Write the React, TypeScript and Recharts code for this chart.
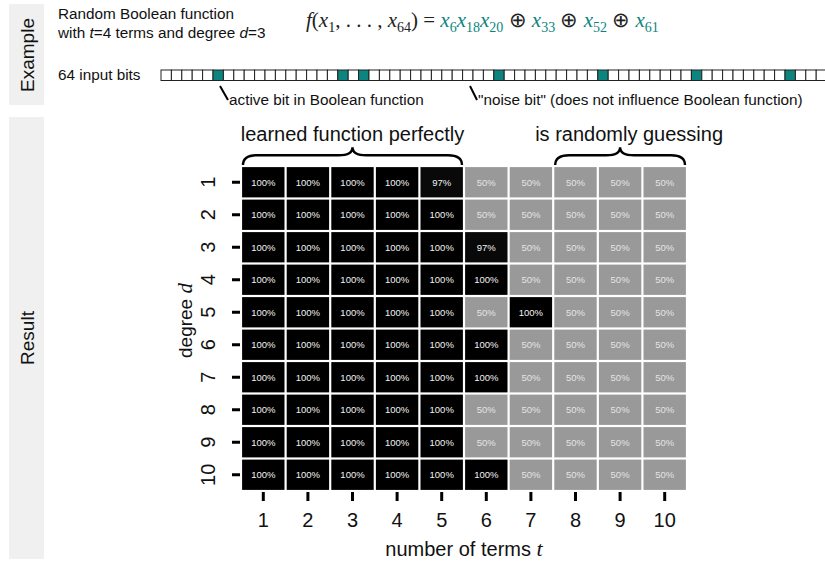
import React from "react";
import {
  ScatterChart,
  Scatter,
  XAxis,
  YAxis,
  ReferenceArea,
} from "recharts";

// number of terms t (columns) and degree d (rows)
const TERMS = [1, 2, 3, 4, 5, 6, 7, 8, 9, 10];
const DEGREES = [1, 2, 3, 4, 5, 6, 7, 8, 9, 10];

// accuracy (%) per degree row, left to right over t = 1..10
const ROW_D1 = [100, 100, 100, 100, 97, 50, 50, 50, 50, 50];
const ROW_D2 = [100, 100, 100, 100, 100, 50, 50, 50, 50, 50];
const ROW_D3 = [100, 100, 100, 100, 100, 97, 50, 50, 50, 50];
const ROW_D4 = [100, 100, 100, 100, 100, 100, 50, 50, 50, 50];
const ROW_D5 = [100, 100, 100, 100, 100, 50, 100, 50, 50, 50];
const ROW_D6 = [100, 100, 100, 100, 100, 100, 50, 50, 50, 50];
const ROW_D7 = [100, 100, 100, 100, 100, 100, 50, 50, 50, 50];
const ROW_D8 = [100, 100, 100, 100, 100, 50, 50, 50, 50, 50];
const ROW_D9 = [100, 100, 100, 100, 100, 50, 50, 50, 50, 50];
const ROW_D10 = [100, 100, 100, 100, 100, 100, 50, 50, 50, 50];

const ROWS = [ROW_D1, ROW_D2, ROW_D3, ROW_D4, ROW_D5, ROW_D6, ROW_D7, ROW_D8, ROW_D9, ROW_D10];

// example input: 64 bits, the highlighted ones (1-based)
const N_BITS = 64;
const ACTIVE_BITS = [6, 18, 20, 33, 43, 52, 61];

const W = 825;
const H = 561;
const PLOT_LEFT = 241;
const PLOT_RIGHT = 687;
const PLOT_TOP = 166;
const PLOT_BOTTOM = 491;
const CELL_W = (PLOT_RIGHT - PLOT_LEFT) / TERMS.length;
const CELL_H = (PLOT_BOTTOM - PLOT_TOP) / DEGREES.length;

const SANS = "'Liberation Sans', Arial, sans-serif";
const SERIF = "'Liberation Serif', 'Times New Roman', serif";
const TEAL = "#0c8580";
const SMALL = 15.3;

const cells = ROWS.flatMap((row, i) =>
  row.map((acc, j) => ({ t: TERMS[j], d: DEGREES[i], acc }))
);

function cellColor(acc: number) {
  const g = Math.round(255 * 0.6 * ((100 - acc) / 50));
  return `rgb(${g},${g},${g})`;
}

function Cell(props: any) {
  const { cx, cy, payload } = props;
  if (cx == null || cy == null) return null;
  const gap = 1.1;
  return (
    <g>
      <rect
        x={cx - CELL_W / 2 + gap}
        y={cy - CELL_H / 2 + gap}
        width={CELL_W - 2 * gap}
        height={CELL_H - 2 * gap}
        fill={cellColor(payload.acc)}
      />
      <text
        x={cx}
        y={cy}
        textAnchor="middle"
        dominantBaseline="central"
        fontSize={9.5}
        fill={payload.acc > 75 ? "#f2f2f2" : "#e4e4e4"}
      >
        {payload.acc}%
      </text>
    </g>
  );
}

function XTick(props: any) {
  const { x, y, payload } = props;
  return (
    <g>
      <line x1={x} x2={x} y1={y + 1} y2={y + 10} stroke="#000" strokeWidth={3} />
      <text x={x} y={y + 36} textAnchor="middle" fontSize={20} fill="#111">
        {payload.value}
      </text>
    </g>
  );
}

function YTick(props: any) {
  const { x, y, payload } = props;
  const tx = x - 33;
  return (
    <g>
      <line x1={x - 9} x2={x - 1} y1={y} y2={y} stroke="#000" strokeWidth={3} />
      <text
        x={tx}
        y={y}
        transform={`rotate(-90 ${tx} ${y})`}
        textAnchor="middle"
        dominantBaseline="central"
        fontSize={20}
        fill="#111"
      >
        {payload.value}
      </text>
    </g>
  );
}

function XLabel(props: any) {
  const vb = props.viewBox || {};
  return (
    <text x={vb.x + vb.width / 2} y={vb.y + 65} textAnchor="middle" fontSize={20} fill="#111">
      number of terms{" "}
      <tspan fontFamily={SERIF} fontStyle="italic" fontSize={22}>
        t
      </tspan>
    </text>
  );
}

function YLabel(props: any) {
  const vb = props.viewBox || {};
  const cx = 185;
  const cy = vb.y + vb.height / 2 - 8;
  return (
    <text
      x={cx}
      y={cy}
      transform={`rotate(-90 ${cx} ${cy})`}
      textAnchor="middle"
      dominantBaseline="central"
      fontSize={19}
      fill="#111"
    >
      degree{" "}
      <tspan fontFamily={SERIF} fontStyle="italic" fontSize={21}>
        d
      </tspan>
    </text>
  );
}

function braceShape(label: string, labelShift: number) {
  return (props: any) => {
    const { x, y, width, height } = props;
    const x1 = x + 2;
    const x2 = x + width - 2;
    const xm = (x1 + x2) / 2;
    const yb = y + height;
    const ym = y + height * 0.45;
    const q = 14;
    const d = `M ${x1} ${yb} Q ${x1} ${ym} ${x1 + q} ${ym} L ${xm - q} ${ym} Q ${xm} ${ym} ${xm} ${y}` +
      ` Q ${xm} ${ym} ${xm + q} ${ym} L ${x2 - q} ${ym} Q ${x2} ${ym} ${x2} ${yb}`;
    return (
      <g>
        <path d={d} fill="none" stroke="#000" strokeWidth={2.4} />
        <text x={xm + labelShift} y={y - 6} textAnchor="middle" fontSize={20} fill="#111">
          {label}
        </text>
      </g>
    );
  };
}

type Seg = { s: string; it?: boolean; sub?: boolean; c?: string };

function Formula() {
  const segs: Seg[] = [];
  const v = (n: string, c: string) => {
    segs.push({ s: "x", it: true, c });
    segs.push({ s: n, sub: true, c });
  };
  segs.push({ s: "f", it: true });
  segs.push({ s: "(" });
  v("1", "#222");
  segs.push({ s: ", . . . , " });
  v("64", "#222");
  segs.push({ s: ") = " });
  v("6", TEAL);
  v("18", TEAL);
  v("20", TEAL);
  segs.push({ s: " ⊕ " });
  v("33", TEAL);
  segs.push({ s: " ⊕ " });
  v("52", TEAL);
  segs.push({ s: " ⊕ " });
  v("61", TEAL);

  let shift = 0;
  return (
    <text x={306} y={27} fontFamily={SERIF} fontSize={21} fill="#222" xmlSpace="preserve">
      {segs.map((g, i) => {
        const target = g.sub ? 5 : 0;
        const dy = target - shift;
        shift = target;
        return (
          <tspan
            key={i}
            dy={dy}
            fontStyle={g.it ? "italic" : "normal"}
            fontSize={g.sub ? 14 : 21}
            fill={g.c || "#222"}
          >
            {g.s}
          </tspan>
        );
      })}
    </text>
  );
}

function Backdrop() {
  const bitX0 = 161;
  const bitW = 10.4;
  const bitY = 70;
  const bitH = 10.5;
  const bits = Array.from({ length: N_BITS }, (_, i) => i + 1);
  return (
    <svg width={W} height={H} style={{ position: "absolute", left: 0, top: 0 }}>
      <rect x={9} y={4} width={35} height={101} fill="#f0f0f0" />
      <text
        x={27}
        y={55}
        transform="rotate(-90 27 55)"
        textAnchor="middle"
        dominantBaseline="central"
        fontSize={19}
        fill="#111"
      >
        Example
      </text>
      <rect x={9} y={117} width={35} height={442} fill="#f0f0f0" />
      <text
        x={27}
        y={338}
        transform="rotate(-90 27 338)"
        textAnchor="middle"
        dominantBaseline="central"
        fontSize={19}
        fill="#111"
      >
        Result
      </text>

      <text x={58} y={19} fontSize={SMALL} fill="#111">
        Random Boolean function
      </text>
      <text x={58} y={38} fontSize={SMALL} fill="#111">
        with <tspan fontStyle="italic">t</tspan>=4 terms and degree{" "}
        <tspan fontStyle="italic">d</tspan>=3
      </text>
      <Formula />

      <text x={58} y={80} fontSize={SMALL} fill="#111">
        64 input bits
      </text>
      {bits.map((b) => (
        <rect
          key={b}
          x={bitX0 + (b - 1) * bitW}
          y={bitY}
          width={bitW}
          height={bitH}
          fill={ACTIVE_BITS.includes(b) ? TEAL : "#fff"}
          stroke="#222"
          strokeWidth={1}
        />
      ))}
      <line x1={220} y1={86} x2={228} y2={100} stroke="#000" strokeWidth={2} />
      <text x={229} y={105} fontSize={SMALL} fill="#111">
        active bit in Boolean function
      </text>
      <line x1={470} y1={86} x2={477} y2={100} stroke="#000" strokeWidth={2} />
      <text x={478} y={105} fontSize={SMALL} fill="#111">
        "noise bit" (does not influence Boolean function)
      </text>
    </svg>
  );
}

export default function App() {
  return (
    <div
      style={{
        position: "absolute",
        left: 0,
        top: 0,
        width: W,
        height: H,
        background: "#fff",
        fontFamily: SANS,
        overflow: "hidden",
      }}
    >
      <Backdrop />
      <div style={{ position: "absolute", left: 0, top: 0 }}>
        <ScatterChart
          width={W}
          height={H}
          margin={{ top: PLOT_TOP, right: W - PLOT_RIGHT, bottom: 0, left: 0 }}
        >
          <XAxis
            type="number"
            dataKey="t"
            domain={[0.5, 10.5]}
            ticks={TERMS}
            allowDataOverflow
            axisLine={false}
            tickLine={false}
            tickSize={0}
            tickMargin={0}
            height={H - PLOT_BOTTOM}
            tick={<XTick />}
            label={<XLabel />}
          />
          <YAxis
            type="number"
            dataKey="d"
            domain={[0.5, 10.5]}
            ticks={DEGREES}
            reversed
            allowDataOverflow
            axisLine={false}
            tickLine={false}
            tickSize={0}
            tickMargin={0}
            width={PLOT_LEFT}
            tick={<YTick />}
            label={<YLabel />}
          />
          <ReferenceArea
            x1={0.5}
            x2={5.5}
            y1={-0.08}
            y2={0.47}
            ifOverflow="visible"
            shape={braceShape("learned function perfectly", 0)}
          />
          <ReferenceArea
            x1={7.5}
            x2={10.5}
            y1={-0.08}
            y2={0.47}
            ifOverflow="visible"
            shape={braceShape("is randomly guessing", 9)}
          />
          <Scatter data={cells} shape={<Cell />} isAnimationActive={false} />
        </ScatterChart>
      </div>
    </div>
  );
}
